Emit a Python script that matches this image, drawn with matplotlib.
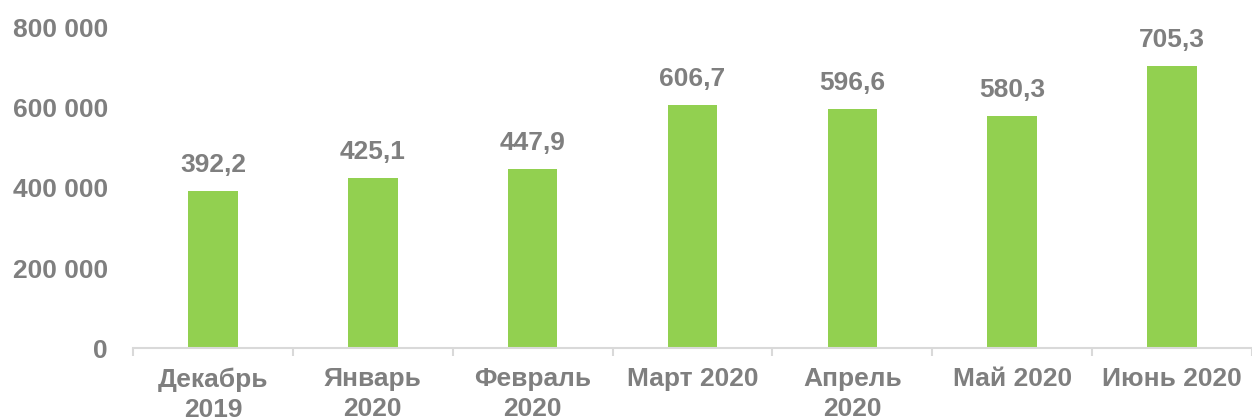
import matplotlib.pyplot as plt
import numpy as np

categories = ['Декабрь\n2019', 'Январь\n2020', 'Февраль\n2020', 'Март 2020',
              'Апрель\n2020', 'Май 2020', 'Июнь 2020']
values = [392200, 425100, 447900, 606700, 596600, 580300, 705300]
value_labels = ['392,2', '425,1', '447,9', '606,7', '596,6', '580,3', '705,3']
y_ticks = [0, 200000, 400000, 600000, 800000]
y_tick_labels = ['0', '200 000', '400 000', '600 000', '800 000']

plt.rcParams['font.family'] = ['Liberation Sans', 'DejaVu Sans']
gray = '#7F7F7F'
green = '#92D050'
fs = 19

fig = plt.figure(figsize=(12.52, 4.2), dpi=100)
ax = fig.add_axes([0.1062, 0.1714, 0.8938, 0.762])

x = np.arange(len(categories))
ax.bar(x, values, width=0.31, color=green, zorder=2)

for xi, v, lab in zip(x, values, value_labels):
    ax.annotate(lab, (xi, v), xytext=(0, 10), textcoords='offset points',
                ha='center', va='bottom', fontsize=fs, fontweight='bold',
                color=gray, annotation_clip=False)

ax.set_xlim(-0.5, len(categories) - 0.5)
ax.set_ylim(0, 800000)
ax.set_yticks(y_ticks)
ax.set_yticklabels(y_tick_labels)
ax.set_xticks(x)
ax.set_xticklabels(categories, linespacing=1.3)
ax.set_xticks(np.arange(len(categories) + 1) - 0.5, minor=True)

for s in ['top', 'right', 'left']:
    ax.spines[s].set_visible(False)
ax.spines['bottom'].set_color('#D9D9D9')
ax.spines['bottom'].set_linewidth(1.5)

ax.tick_params(axis='y', length=0, pad=18, labelsize=fs, labelcolor=gray)
ax.tick_params(axis='x', which='major', length=0, pad=14, labelsize=fs, labelcolor=gray)
ax.tick_params(axis='x', which='minor', length=6, width=1.5, color='#D9D9D9')
for t in ax.get_xticklabels() + ax.get_yticklabels():
    t.set_fontweight('bold')

fig.savefig('out.png', dpi=100)
